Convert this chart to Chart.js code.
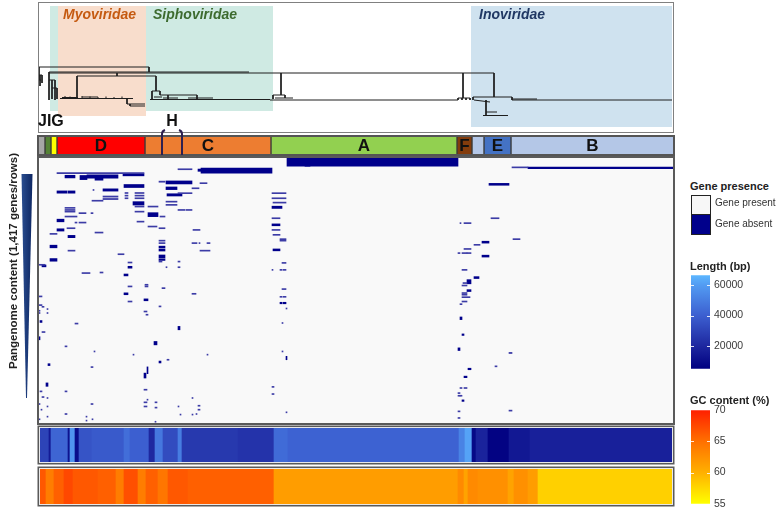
<!DOCTYPE html>
<html>
<head>
<meta charset="utf-8">
<script src="https://cdn.jsdelivr.net/npm/chart.js@4.4.0/dist/chart.umd.min.js"></script>
<style>
  html, body { margin: 0; padding: 0; background: #fff; }
  #wrap { position: relative; width: 777px; height: 510px; overflow: hidden; font-family: "Liberation Sans", Arial, sans-serif; }
  canvas { position: absolute; }
  .t { position: absolute; white-space: nowrap; color: #222; }
</style>
</head>
<body>
<div id="wrap">
  <canvas id="dendro" width="641" height="136" style="left:36px;top:0px"></canvas>
  <canvas id="clusters" width="641" height="158" style="left:36px;top:0px"></canvas>
  <canvas id="heat" width="677" height="278" style="left:0px;top:150px"></canvas>
  <canvas id="lenStrip" width="641" height="42" style="left:36px;top:424px"></canvas>
  <canvas id="gcStrip" width="641" height="43" style="left:36px;top:465px"></canvas>
  <canvas id="lenLegend" width="86" height="114" style="left:691px;top:265px"></canvas>
  <canvas id="gcLegend" width="86" height="114" style="left:691px;top:400px"></canvas>

  <div class="t" style="left:-117px;top:255px;width:260px;text-align:center;font:bold 11.5px 'Liberation Sans',Arial,sans-serif;transform:rotate(-90deg);">Pangenome content (1,417 genes/rows)</div>

  <div class="t" style="left:690px;top:180px;font:bold 11px 'Liberation Sans',Arial,sans-serif;">Gene presence</div>
  <div style="position:absolute;left:691px;top:195px;width:18px;height:38px;border:1px solid #222;">
    <div style="height:18px;background:#f7f7f7;border-bottom:1px solid #222;"></div>
    <div style="height:19px;background:#00008b;"></div>
  </div>
  <div class="t" style="left:715px;top:197px;font:10px 'Liberation Sans',Arial,sans-serif;color:#333;">Gene present</div>
  <div class="t" style="left:715px;top:218px;font:10px 'Liberation Sans',Arial,sans-serif;color:#333;">Gene absent</div>
  <div class="t" style="left:690px;top:260px;font:bold 11px 'Liberation Sans',Arial,sans-serif;">Length (bp)</div>
  <div class="t" style="left:690px;top:394px;font:bold 11px 'Liberation Sans',Arial,sans-serif;">GC content (%)</div>
</div>

<script>
// ---- data ----
var totalGenomes = 636;   // genome columns (leaf order)
var totalGenes = 1417;    // pangenome rows

var families = ['Siphoviridae', 'Myoviridae', 'Inoviridae'];
var familySpan = [[12, 235], [20, 108], [433, 634]];

var clusterNames = ['J', 'I', 'G', 'D', 'C', 'A', 'F', '', 'E', 'B'];
var clusterSizes = [7, 6, 6, 88, 126, 186, 15, 12, 27, 163];
var subclusterH = [124, 144];

// tree branches: [genome0, height0, genome1, height1]
var dendroSegments = [
    [1, 66, 111, 66], [1, 66, 1, 53], [1, 58, 4, 58], [4, 58, 4, 50], [2, 58, 2, 47], [1, 53, 3, 53],
    [111, 66, 111, 61], [11, 61, 211, 61], [11, 60, 456, 60],
    [11, 61, 11, 33], [11, 53, 17, 53], [14, 53, 14, 34], [17, 53, 17, 33], [14, 45, 19, 45], [19, 45, 19, 34],
    [79, 60, 79, 57], [39, 57, 118, 57], [39, 57, 39, 35], [118, 57, 118, 42],
    [22, 34.5, 95, 34.5], [24, 35.5, 40, 35.5], [44, 36, 60, 36],
    [27, 34.5, 27, 37], [32, 34.5, 32, 36.5], [39, 35, 39, 36], [44, 34.5, 44, 37], [52, 34.5, 52, 36.5],
    [60, 34.5, 60, 36], [68, 34.5, 68, 36.5], [76, 34.5, 76, 36], [84, 34.5, 84, 36.5],
    [89, 34.5, 89, 29], [89, 29, 107, 29], [92, 29, 92, 27], [92, 27, 107, 27],
    [114, 42, 122, 42], [114, 42, 114, 33], [122, 42, 122, 38], [122, 38, 159, 38], [130, 38, 130, 34],
    [159, 38, 159, 34], [112, 33.5, 232, 33.5], [125, 35, 140, 35], [150, 35, 175, 35], [116, 36, 124, 36],
    [243, 60, 243, 38], [235, 38, 247, 38], [235, 38, 235, 34], [247, 38, 247, 35], [237, 35, 255, 35],
    [232, 33, 420, 33],
    [425, 60, 425, 35], [420, 35, 432, 35], [420, 35, 420, 33], [424, 35, 424, 33], [428, 35, 428, 33], [432, 35, 432, 33],
    [456, 60, 456, 36], [435, 36, 474, 36], [435, 36, 435, 33], [436, 33, 452, 31], [448, 33, 448, 21],
    [448, 21, 459, 21], [448, 21, 448, 18], [445, 17.5, 470, 17.5], [474, 36, 474, 33], [474, 34, 499, 34],
    [474, 33, 634, 33]
];

// absent genes: [row, genome0, genome1, genes in block]
var absentGenes = [
    [86, 19, 106, 5], [104, 49, 80, 18], [104, 27, 37, 14], [109, 42, 49, 22], [118, 57, 65, 10], [95, 85, 106, 10],
    [154, 86, 106, 16], [135, 128, 154, 16], [131, 121, 127, 6], [139, 162, 169, 5], [65, 140, 154, 5],
    [72, 163, 234, 27], [70, 160, 166, 12], [28, 249, 420, 41], [45, 267, 272, 8], [55, 474, 490, 5], [58, 490, 636, 9],
    [166, 128, 139, 14], [166, 154, 161, 5], [175, 65, 80, 12], [175, 55, 56, 5], [186, 19, 29, 12], [186, 30, 37, 12],
    [192, 234, 248, 5], [191, 87, 90, 5], [191, 97, 106, 5], [205, 87, 90, 5], [205, 97, 106, 5], [219, 87, 90, 5],
    [219, 97, 106, 5], [201, 129, 144, 12], [192, 140, 154, 5], [210, 65, 80, 6], [223, 65, 80, 6], [219, 234, 248, 5],
    [242, 235, 248, 5], [232, 54, 65, 5], [246, 95, 106, 18], [237, 128, 139, 5], [254, 128, 139, 5], [263, 110, 120, 5],
    [263, 97, 106, 5], [267, 234, 244, 12], [270, 27, 37, 5], [281, 27, 37, 5], [290, 27, 37, 5], [281, 140, 147, 5],
    [281, 148, 154, 5], [290, 97, 106, 5], [306, 110, 120, 21], [298, 41, 48, 5], [298, 53, 55, 5], [316, 27, 39, 5],
    [316, 122, 127, 5], [325, 234, 242, 5], [337, 19, 26, 14], [343, 99, 106, 5], [348, 41, 48, 5], [348, 37, 39, 5],
    [360, 234, 242, 10], [369, 110, 119, 5], [378, 121, 127, 5], [378, 29, 37, 5], [387, 155, 162, 5], [387, 19, 26, 12],
    [387, 234, 242, 5], [401, 57, 65, 5], [408, 12, 19, 5], [413, 235, 242, 5], [422, 30, 37, 12], [436, 242, 248, 5],
    [444, 242, 248, 5], [444, 121, 127, 5], [457, 121, 127, 5], [457, 154, 159, 5], [457, 161, 162, 5], [457, 169, 172, 5],
    [475, 12, 19, 14], [478, 121, 127, 10], [494, 121, 127, 10], [493, 235, 242, 10], [497, 30, 37, 5], [497, 162, 172, 5],
    [516, 80, 86, 5], [528, 121, 127, 16], [545, 121, 127, 8], [546, 12, 19, 14], [555, 140, 142, 5], [555, 121, 124, 5],
    [560, 90, 94, 5], [562, 244, 248, 5], [572, 0, 7, 5], [578, 4, 8, 10], [585, 90, 94, 10], [585, 128, 129, 5],
    [585, 140, 142, 5], [599, 234, 235, 5], [599, 242, 244, 5], [599, 245, 248, 5], [616, 44, 52, 5], [613, 62, 65, 5],
    [626, 86, 90, 10], [678, 107, 110, 5], [687, 107, 110, 5], [687, 90, 94, 5], [696, 124, 127, 5], [701, 244, 248, 5],
    [726, 86, 90, 10], [726, 154, 158, 5], [740, 0, 4, 5], [742, 242, 244, 5], [742, 245, 248, 5], [758, 106, 110, 10],
    [767, 90, 94, 5], [775, 242, 244, 8], [775, 245, 248, 8], [786, 0, 4, 5], [795, 4, 6, 5], [793, 121, 123, 5],
    [804, 248, 249, 5], [807, 9, 10, 5], [820, 106, 109, 5], [816, 0, 2, 5], [828, 9, 10, 5], [828, 0, 2, 5],
    [837, 108, 110, 5], [873, 2, 4, 10], [884, 37, 40, 5], [881, 244, 245, 5], [908, 140, 142, 18], [929, 4, 7, 5],
    [962, 0, 2, 16], [988, 116, 119, 18], [1005, 27, 29, 5], [1032, 56, 57, 5], [1032, 244, 245, 5], [1049, 95, 96, 5],
    [1049, 169, 170, 5], [1067, 248, 249, 18], [1076, 129, 131, 5], [1088, 121, 123, 10], [1102, 10, 12, 10],
    [1115, 53, 55, 5], [1132, 109, 110, 36], [1160, 106, 108, 26], [1208, 8, 10, 18], [1220, 234, 236, 5],
    [1235, 106, 109, 5], [1244, 2, 4, 5], [1244, 27, 29, 5], [1258, 234, 236, 5], [1274, 4, 6, 5], [1279, 9, 10, 5],
    [1279, 154, 155, 5], [1288, 109, 110, 5], [1302, 106, 109, 5], [1302, 117, 119, 5], [1311, 0, 2, 5], [1311, 53, 55, 5],
    [1320, 160, 162, 5], [1324, 9, 10, 5], [1324, 106, 109, 5], [1324, 140, 141, 5], [1330, 117, 119, 5], [1341, 3, 4, 5],
    [1341, 160, 162, 5], [1355, 248, 249, 5], [1364, 27, 29, 5], [1364, 158, 159, 5], [1367, 154, 155, 5],
    [1367, 142, 143, 5], [1378, 48, 49, 5], [1378, 9, 10, 5], [1392, 0, 2, 5], [1392, 54, 55, 5], [1399, 48, 49, 5],
    [1405, 117, 118, 5],
    [662, 429, 433, 22], [682, 424, 429, 5], [709, 429, 433, 10], [722, 424, 429, 5], [731, 424, 429, 5], [744, 424, 432, 5],
    [767, 424, 429, 5], [781, 422, 424, 5], [856, 422, 424, 14], [943, 424, 426, 8], [1020, 420, 422, 14], [1040, 471, 474, 6],
    [1111, 457, 459, 5], [1125, 430, 433, 8], [1167, 426, 429, 8], [1226, 422, 424, 5], [1226, 426, 429, 5], [1253, 420, 422, 5],
    [1267, 420, 422, 5], [1267, 422, 424, 5], [1293, 424, 426, 8], [1346, 471, 474, 5], [1350, 420, 422, 5], [1385, 420, 422, 5],
    [145, 451, 471, 10], [325, 453, 461, 5], [351, 422, 423, 5], [351, 426, 433, 5], [436, 475, 482, 5], [452, 444, 451, 10],
    [466, 436, 442, 5], [488, 426, 433, 5], [510, 420, 422, 5], [510, 424, 429, 5], [510, 429, 433, 5], [526, 444, 451, 10],
    [599, 424, 429, 5], [640, 436, 441, 10], [669, 425, 429, 5]
];

// genome length (bp) along the leaf order: [genome0, genome1, bp]
var lengthRuns = [
    [0, 11, 30000], [11, 13, 15000], [13, 30, 42000], [30, 32, 12000], [32, 37, 58000], [37, 41, 10000],
    [41, 54, 36000], [54, 86, 38000], [86, 92, 45000], [92, 111, 40000], [111, 117, 20000], [117, 125, 48000],
    [125, 140, 33000], [140, 144, 50000], [144, 200, 26000], [200, 236, 24000], [236, 250, 44000], [250, 421, 41000],
    [421, 427, 52000], [427, 434, 62000], [434, 438, 8000], [438, 450, 18000], [450, 471, 6000], [471, 492, 14000],
    [492, 636, 17000]
];

// GC content (%) along the leaf order: [genome0, genome1, percent]
var gcRuns = [
    [0, 8, 66.5], [8, 16, 64], [16, 26, 66], [26, 35, 67.5], [35, 60, 66.5], [60, 78, 66], [78, 86, 64], [86, 100, 67],
    [100, 108, 64], [108, 120, 66], [120, 130, 64.5], [130, 150, 66.5], [150, 236, 66], [236, 420, 61.5], [420, 426, 63],
    [426, 430, 61], [430, 440, 63], [440, 470, 62.5], [470, 476, 61], [476, 490, 62.5], [490, 500, 61.5], [500, 636, 58]
];

var lengthRange = [4700, 66700];
var lengthTicks = [20000, 40000, 60000];
var gcRange = [55, 70];
var gcTicks = [55, 60, 65, 70];

// ---- styles ----
var FONT = '"Liberation Sans", Arial, sans-serif';
Chart.defaults.font.family = FONT;

var familyFill = ['#cfeae3', '#f8ddcc', '#cfe2ef'];
var familyText = ['#3d6b2f', '#c55a11', '#203864'];
var familyBox = [[127, 22], [127, 17], [127, 6]];
var familyLabelAt = [115, 25, 441];
var clusterColors = ['#a6a6a6', '#548235', '#ffff00', '#ff0000', '#ed7d31', '#92d050', '#843c0c', '#b4c7e7', '#4472c4', '#b4c7e7'];
var absentColor = '#00008b';
var absentThinColor = '#3c3ca6';
var lengthStops = [[4700, [0, 0, 128]], [20000, [30, 40, 160]], [40000, [60, 95, 208]], [60000, [82, 155, 242]], [66700, [92, 182, 255]]];
var gcStops = [[55, [255, 255, 0]], [60, [255, 176, 0]], [65, [255, 112, 0]], [70, [255, 32, 0]]];

function rampColor(stops, v) {
    if (v <= stops[0][0]) return 'rgb(' + stops[0][1].join(',') + ')';
    for (var i = 1; i < stops.length; i++) {
        if (v <= stops[i][0]) {
            var t = (v - stops[i - 1][0]) / (stops[i][0] - stops[i - 1][0]);
            var c0 = stops[i - 1][1], c1 = stops[i][1];
            return 'rgb(' + c0.map(function(c, k) { return Math.round(c + (c1[k] - c) * t); }).join(',') + ')';
        }
    }
    return 'rgb(' + stops[stops.length - 1][1].join(',') + ')';
}

function baseOptions(padding) {
    return {
        responsive: false,
        animation: false,
        events: [],
        layout: { padding: padding },
        plugins: { legend: { display: false }, tooltip: { enabled: false } }
    };
}

// ---- dendrogram ----
var dendroPoints = [];
dendroSegments.forEach(function(s) {
    dendroPoints.push({ x: s[0], y: s[1] }, { x: s[2], y: s[3] }, { x: null, y: null });
});

var dendroDecor = {
    id: 'dendroDecor',
    beforeDatasetsDraw: function(chart) {
        var ctx = chart.ctx, x = chart.scales.x, y = chart.scales.y;
        ctx.save();
        families.forEach(function(name, i) {
            var x0 = x.getPixelForValue(familySpan[i][0]), x1 = x.getPixelForValue(familySpan[i][1]);
            var y0 = y.getPixelForValue(familyBox[i][0]), y1 = y.getPixelForValue(familyBox[i][1]);
            ctx.fillStyle = familyFill[i];
            ctx.fillRect(x0, y0, x1 - x0, y1 - y0);
        });
        ctx.font = 'italic bold 14px ' + FONT;
        ctx.textBaseline = 'middle';
        families.forEach(function(name, i) {
            ctx.fillStyle = familyText[i];
            ctx.fillText(name, x.getPixelForValue(familyLabelAt[i]), y.getPixelForValue(118));
        });
        ctx.restore();
    },
    afterDraw: function(chart) {
        var a = chart.chartArea, ctx = chart.ctx;
        ctx.save();
        ctx.strokeStyle = '#808080';
        ctx.lineWidth = 1;
        ctx.strokeRect(a.left + 0.5, a.top + 0.5, a.right - a.left - 1, a.bottom - a.top - 1);
        ctx.restore();
    }
};

new Chart(document.getElementById('dendro'), {
    type: 'scatter',
    data: {
        datasets: [{
            data: dendroPoints,
            showLine: true,
            spanGaps: false,
            borderColor: '#1e1e1e',
            borderWidth: 1,
            pointRadius: 0
        }]
    },
    options: Object.assign(baseOptions({ left: 2, top: 2, right: 3, bottom: 3 }), {
        scales: {
            x: { type: 'linear', min: 0, max: totalGenomes, display: false },
            y: { type: 'linear', min: 0, max: 131, display: false }
        }
    }),
    plugins: [dendroDecor]
});

// ---- cluster bar ----
var clusterDecor = {
    id: 'clusterDecor',
    afterDatasetsDraw: function(chart) {
        var ctx = chart.ctx, a = chart.chartArea, x = chart.scales.x;
        ctx.save();
        ctx.strokeStyle = '#555';
        ctx.lineWidth = 2;
        ctx.strokeRect(a.left, a.top, a.right - a.left, a.bottom - a.top);

        // H sub-cluster brackets
        var h0 = x.getPixelForValue(subclusterH[0]), h1 = x.getPixelForValue(subclusterH[1]);
        ctx.strokeStyle = '#2e2050';
        ctx.lineWidth = 2;
        ctx.beginPath();
        ctx.moveTo(h0, a.bottom);
        ctx.lineTo(h0, a.top - 2);
        ctx.quadraticCurveTo(h0, a.top - 5, h0 + 3, a.top - 6);
        ctx.moveTo(h1, a.bottom);
        ctx.lineTo(h1, a.top - 2);
        ctx.quadraticCurveTo(h1, a.top - 5, h1 - 3, a.top - 6);
        ctx.stroke();

        ctx.fillStyle = '#111';
        ctx.textBaseline = 'middle';
        ctx.textAlign = 'center';
        ctx.font = 'bold 17px ' + FONT;
        var small = '';
        chart.data.datasets.forEach(function(ds, i) {
            var name = clusterNames[i];
            if (!name) return;
            if (clusterSizes[i] < 10) { small += name; return; }
            var el = chart.getDatasetMeta(i).data[0];
            ctx.fillText(name, (el.x + el.base) / 2, el.y + 1);
        });
        ctx.font = 'bold 16px ' + FONT;
        ctx.fillText('H', (h0 + h1) / 2, a.top - 14);
        ctx.textAlign = 'left';
        ctx.fillText(small, x.getPixelForValue(0), a.top - 14);
        ctx.restore();
    }
};

new Chart(document.getElementById('clusters'), {
    type: 'bar',
    data: {
        labels: ['cluster'],
        datasets: clusterNames.map(function(n, i) {
            return {
                label: n,
                data: [clusterSizes[i]],
                backgroundColor: clusterColors[i],
                borderColor: '#3a3a3a',
                borderWidth: 1,
                borderSkipped: false,
                barPercentage: 1,
                categoryPercentage: 1
            };
        })
    },
    options: Object.assign(baseOptions({ left: 2, top: 136, right: 3, bottom: 3 }), {
        indexAxis: 'y',
        scales: {
            x: { stacked: true, min: 0, max: totalGenomes, display: false },
            y: { stacked: true, display: false }
        }
    }),
    plugins: [clusterDecor]
});

// ---- heatmap ----
var pxPerGene = 267 / totalGenes;
var groups = {};
absentGenes.forEach(function(g) {
    (groups[g[3]] = groups[g[3]] || []).push({ x: [g[1], g[2]], y: g[0] });
});
var heatSets = Object.keys(groups).map(function(n) {
    return {
        data: groups[n],
        stack: 'heat',
        backgroundColor: n <= 6 ? absentThinColor : absentColor,
        borderWidth: 0,
        barThickness: Math.max(1, n * pxPerGene)
    };
});

var heatDecor = {
    id: 'heatDecor',
    beforeDatasetsDraw: function(chart) {
        var ctx = chart.ctx, a = chart.chartArea;
        ctx.save();
        ctx.fillStyle = '#f9f9f9';
        ctx.fillRect(a.left, a.top, a.right - a.left, a.bottom - a.top);
        // row-order wedge next to the axis title
        var g = ctx.createLinearGradient(21, 0, 33, 0);
        g.addColorStop(0, '#2b4f92');
        g.addColorStop(1, '#0d2560');
        ctx.fillStyle = g;
        ctx.beginPath();
        ctx.moveTo(21.5, 24);
        ctx.lineTo(32.5, 24);
        ctx.lineTo(27, 248);
        ctx.lineTo(26, 248);
        ctx.closePath();
        ctx.fill();
        ctx.restore();
    },
    afterDraw: function(chart) {
        var ctx = chart.ctx, a = chart.chartArea;
        ctx.save();
        ctx.strokeStyle = '#5a5a5a';
        ctx.lineWidth = 2;
        ctx.strokeRect(a.left, a.top, a.right - a.left, a.bottom - a.top);
        ctx.restore();
    }
};

new Chart(document.getElementById('heat'), {
    type: 'bar',
    data: { datasets: heatSets },
    options: Object.assign(baseOptions({ left: 38, top: 7, right: 3, bottom: 4 }), {
        indexAxis: 'y',
        scales: {
            x: { type: 'linear', min: 0, max: totalGenomes, stacked: false, display: false },
            y: { type: 'linear', min: 0, max: totalGenes, reverse: true, offset: false, display: false }
        }
    }),
    plugins: [heatDecor]
});

// ---- metadata strips ----
var stripFrame = {
    id: 'stripFrame',
    afterDraw: function(chart) {
        var ctx = chart.ctx, a = chart.chartArea;
        ctx.save();
        ctx.strokeStyle = '#e8e8e8';
        ctx.lineWidth = 1;
        ctx.strokeRect(a.left + 1.5, a.top + 1.5, a.right - a.left - 3, a.bottom - a.top - 3);
        ctx.strokeStyle = '#5a5a5a';
        ctx.lineWidth = 1.5;
        ctx.strokeRect(a.left + 0.25, a.top + 0.25, a.right - a.left - 0.5, a.bottom - a.top - 0.5);
        ctx.restore();
    }
};

function stripChart(id, runs, stops) {
    return new Chart(document.getElementById(id), {
        type: 'bar',
        data: {
            labels: ['s'],
            datasets: [{
                data: runs.map(function(r) { return { x: [r[0], r[1]], y: 's' }; }),
                backgroundColor: runs.map(function(r) { return rampColor(stops, r[2]); }),
                borderWidth: 0,
                barPercentage: 1,
                categoryPercentage: 1
            }]
        },
        options: Object.assign(baseOptions({ left: 2, top: 2, right: 3, bottom: 2 }), {
            indexAxis: 'y',
            scales: {
                x: { type: 'linear', min: 0, max: totalGenomes, display: false },
                y: { display: false }
            }
        }),
        plugins: [stripFrame]
    });
}
stripChart('lenStrip', lengthRuns, lengthStops);
stripChart('gcStrip', gcRuns, gcStops);

// ---- colour legends ----
var legendTicks = {
    id: 'legendTicks',
    afterDatasetsDraw: function(chart) {
        var ctx = chart.ctx, a = chart.chartArea, y = chart.scales.y;
        ctx.save();
        ctx.strokeStyle = 'rgba(255,255,255,0.85)';
        ctx.lineWidth = 1;
        y.ticks.forEach(function(t) {
            var py = Math.round(y.getPixelForValue(t.value)) + 0.5;
            if (py < a.top + 2 || py > a.bottom - 2) return;
            ctx.beginPath();
            ctx.moveTo(a.left, py); ctx.lineTo(a.left + 3, py);
            ctx.moveTo(a.right - 3, py); ctx.lineTo(a.right, py);
            ctx.stroke();
        });
        ctx.restore();
    }
};

function legendChart(id, range, ticks, stops, padding) {
    return new Chart(document.getElementById(id), {
        type: 'bar',
        data: {
            labels: ['v'],
            datasets: [{
                data: [[range[0], range[1]]],
                borderWidth: 0,
                barPercentage: 1,
                categoryPercentage: 1,
                backgroundColor: function(c) {
                    var area = c.chart.chartArea;
                    if (!area) return 'rgb(' + stops[0][1].join(',') + ')';
                    var g = c.chart.ctx.createLinearGradient(0, area.bottom, 0, area.top);
                    stops.forEach(function(s) {
                        g.addColorStop((s[0] - range[0]) / (range[1] - range[0]), 'rgb(' + s[1].join(',') + ')');
                    });
                    return g;
                }
            }]
        },
        options: Object.assign(baseOptions(padding), {
            scales: {
                x: { display: false },
                y: {
                    position: 'right',
                    min: range[0],
                    max: range[1],
                    grid: { display: false, drawTicks: false },
                    border: { display: false },
                    afterBuildTicks: function(s) { s.ticks = ticks.map(function(v) { return { value: v }; }); },
                    afterFit: function(s) { s.width = 67; },
                    ticks: { padding: 4, color: '#3a3a3a', font: { size: 10.5 }, callback: function(v) { return String(v); } }
                }
            }
        }),
        plugins: [legendTicks]
    });
}
legendChart('lenLegend', lengthRange, lengthTicks, lengthStops, { top: 0, bottom: 0, left: 0, right: 0 });
legendChart('gcLegend', gcRange, gcTicks, gcStops, { top: 0, bottom: 0, left: 0, right: 0 });
</script>
</body>
</html>
